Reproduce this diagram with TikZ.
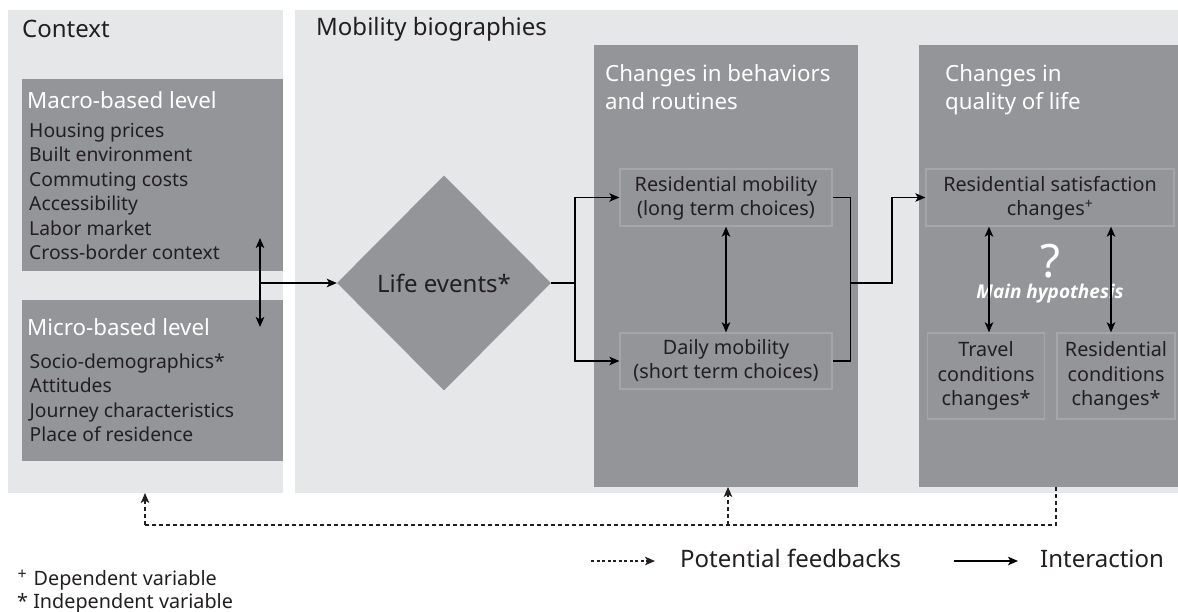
\documentclass[tikz,border=0pt]{standalone}
\usepackage{fontspec}
\setmainfont{Noto Sans}
\newfontfamily\hypfont{Open Sans}
\usetikzlibrary{arrows.meta,shapes.geometric}
\definecolor{panelgray}{HTML}{E6E7E8}
\definecolor{boxgray}{HTML}{939598}
\definecolor{edgegray}{HTML}{A4A6A9}
\definecolor{ink}{HTML}{231F20}
\begin{document}
\begin{tikzpicture}[x=1pt,y=-1pt,
  panel/.style={fill=panelgray,draw=none},
  darkbox/.style={fill=boxgray,draw=none},
  inbox/.style={draw=edgegray,line width=1.3pt,fill=none,inner sep=0pt},
  txt/.style={inner sep=0pt,anchor=base west},
  ttl/.style={txt,text=white,font=\fontsize{22.3}{26}\selectfont},
  bigttl/.style={txt,text=ink,font=\fontsize{24}{28}\selectfont},
  item/.style={txt,text=ink,font=\fontsize{19.3}{24}\selectfont},
  ctxt/.style={inner sep=0pt,anchor=base,text=ink,font=\fontsize{19.8}{24}\selectfont},
  conn/.style={line width=1.5pt,draw=black},
  arr/.style={conn,-{Stealth[length=10pt,width=8.5pt,inset=2.5pt]}},
  darr/.style={conn,{Stealth[length=10pt,width=8.5pt,inset=2.5pt]}-{Stealth[length=10pt,width=8.5pt,inset=2.5pt]}},
  fb/.style={line width=1.3pt,draw=ink,dash pattern=on 4pt off 3pt},
  fbarr/.style={fb,-{Stealth[length=10pt,width=8.5pt,inset=2.5pt]}}
]
\useasboundingbox (0,0) rectangle (1178,612);
\fill[white] (0,0) rectangle (1178,612);

% panels
\path[panel] (8,10) rectangle (283,493);
\path[panel] (295,10) rectangle (1178,493);
\path[darkbox] (22,79) rectangle (283,271);
\path[darkbox] (22,300) rectangle (283,461);
\path[darkbox] (594,45) rectangle (858,487);
\path[darkbox] (919,45) rectangle (1178,487);

% titles
\node[bigttl] (tctx) at (22,38) {Context};
\node[bigttl] (tmob) at (316,36) {Mobility biographies};
\node[ttl] (tmac) at (27,109) {Macro-based level};
\node[ttl] (tmic) at (27,335) {Micro-based level};
\node[ttl] (tbeh1) at (605,82) {Changes in behaviors};
\node[ttl] (tbeh2) at (605,110) {and routines};
\node[ttl] (tqol1) at (945,82) {Changes in};
\node[ttl] (tqol2) at (945,110) {quality of life};

% items
\foreach \t [count=\i] in {Housing prices,Built environment,Commuting costs,Accessibility,Labor market,Cross-border context}
  \node[item] (mac\i) at (29,{113+24.5*\i}) {\t};
\foreach \t [count=\i] in {Socio-demographics*,Attitudes,Journey characteristics,Place of residence}
  \node[item] (mic\i) at (29.5,{344+24.4*\i}) {\t};

% diamond
\node[diamond,fill=boxgray,draw=none,minimum width=214pt,minimum height=215pt,inner sep=0pt] (dia) at (444,283) {};
\node[inner sep=0pt,anchor=base,text=ink,font=\fontsize{24}{28}\selectfont] (life) at (444,292.5) {Life events*};

% inner boxes
\node[inbox,minimum width=212pt,minimum height=57pt] (resmob) at (726,197.5) {};
\node[inbox,minimum width=212pt,minimum height=56pt] (daily) at (726,361) {};
\node[inbox,minimum width=248pt,minimum height=57pt] (ressat) at (1050,197.5) {};
\node[inbox,minimum width=116.5pt,minimum height=86pt] (travel) at (986,376) {};
\node[inbox,minimum width=118pt,minimum height=86pt] (rescond) at (1116,376) {};

\node[ctxt] (rm1) at (726,191.7) {Residential mobility};
\node[ctxt] (rm2) at (726,216) {(long term choices)};
\node[ctxt] (dm1) at (726,355) {Daily mobility};
\node[ctxt] (dm2) at (726,378.5) {(short term choices)};
\node[ctxt] (rs1) at (1050,191.7) {Residential satisfaction};
\node[ctxt] (rs2) at (1050,216) {changes\textsuperscript{+}};
\node[ctxt] (tc1) at (986,356.7) {Travel};
\node[ctxt] (tc2) at (986,381) {conditions};
\node[ctxt] (tc3) at (986,405) {changes*};
\node[ctxt] (rc1) at (1116,356.7) {Residential};
\node[ctxt] (rc2) at (1116,381) {conditions};
\node[ctxt] (rc3) at (1116,405) {changes*};

% hypothesis
\node[inner sep=0pt,anchor=base,text=white,font=\fontsize{46}{50}\selectfont] (qm) at (1050,278) {?};
\node[inner sep=0pt,anchor=base,text=white,font=\hypfont\fontsize{19}{22}\selectfont\bfseries\itshape] (hyp) at (1050,299) {Main hypothesis};

% connectors
\coordinate (ctop) at (260,238);
\coordinate (cbot) at (260,327);
\coordinate (cmid) at (260,283);
\draw[darr] (ctop) -- (cbot);
\draw[arr] (cmid) -- (dia.west);
\draw[arr] (dia.east) -- ++(24,0) |- (resmob.west);
\draw[arr] (dia.east) -- ++(24,0) |- (daily.west);
\draw[conn] (resmob.east) -- ++(18,0) |- (daily.east);
\coordinate (jn) at (850,283);
\draw[arr] (jn) -- (892,283) |- (ressat.west);
\draw[darr] (resmob.south) -- (daily.north);
\draw[darr] (ressat.south -| 989,0) -- (travel.north -| 989,0);
\draw[darr] (ressat.south -| 1111,0) -- (rescond.north -| 1111,0);

% feedbacks
\coordinate (fstart) at (1056,487);
\coordinate (fcorner) at (1056,525);
\coordinate (fleft) at (145,525);
\coordinate (ctxbot) at (145,493);
\coordinate (fmid) at (728,525);
\coordinate (behbot) at (728,487);
\draw[fb] (fstart) -- (fcorner) -- (fleft);
\draw[fbarr] (fleft) -- (ctxbot);
\draw[fbarr] (fmid) -- (behbot);

% legend
\coordinate (l1a) at (591,561);
\coordinate (l1b) at (655,561);
\coordinate (l2a) at (954,561);
\coordinate (l2b) at (1018,561);
\draw[line width=1.3pt,draw=ink,dash pattern=on 3pt off 2.5pt,-{Stealth[length=10pt,width=8.5pt,inset=2.5pt]}] (l1a) -- (l1b);
\draw[arr] (l2a) -- (l2b);
\node[bigttl] (lfb) at (680,567) {Potential feedbacks};
\node[bigttl] (lint) at (1040,567) {Interaction};

% footnotes
\node[txt,text=ink,font=\fontsize{16}{16}\selectfont] (fnp) at (17.5,579) {+};
\node[item,font=\fontsize{19.8}{22}\selectfont] (fn1) at (33.5,585) {Dependent variable};
\node[item,font=\fontsize{19.8}{22}\selectfont] (fn2) at (17,608) {* Independent variable};
\end{tikzpicture}
\end{document}
